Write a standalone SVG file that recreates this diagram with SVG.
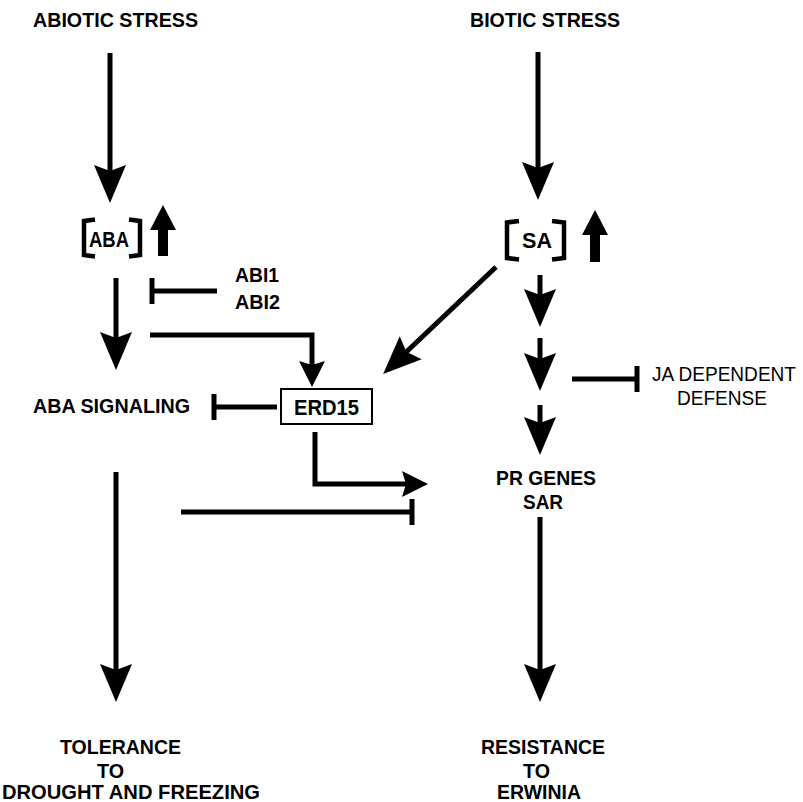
<svg xmlns="http://www.w3.org/2000/svg" width="803" height="802" viewBox="0 0 803 802">
<style>
.t{font-family:"Liberation Sans",Arial,sans-serif;font-weight:bold;font-size:21px;fill:#000}
.r{font-family:"Liberation Sans",Arial,sans-serif;font-size:20px;fill:#000}
.ln{fill:none;stroke:#000;stroke-width:5}
.br{fill:none;stroke:#000;stroke-width:4.5}
</style>
<defs>
<marker id="ah" markerUnits="userSpaceOnUse" viewBox="-20 -20 50 40" markerWidth="50" markerHeight="40" refX="0" refY="0" orient="auto" overflow="visible"><path d="M26,0 L-12,-16 L-6,0 L-12,16 Z" fill="#000"/></marker>
<marker id="ahs" markerUnits="userSpaceOnUse" viewBox="-20 -20 40 40" markerWidth="40" markerHeight="40" refX="0" refY="0" orient="auto" overflow="visible"><path d="M18,0 L-8,-13 L-4,0 L-8,13 Z" fill="#000"/></marker>
<marker id="tee" markerUnits="userSpaceOnUse" viewBox="-10 -20 20 40" markerWidth="20" markerHeight="40" refX="0" refY="0" orient="auto" overflow="visible"><path d="M0,-13 V13" stroke="#000" stroke-width="5"/></marker>
</defs>
<rect width="803" height="802" fill="#fff"/>

<g id="abiotic"><text class="t" x="33" y="27" textLength="165" lengthAdjust="spacingAndGlyphs">ABIOTIC STRESS</text></g>
<g id="biotic"><text class="t" x="470" y="27" textLength="150" lengthAdjust="spacingAndGlyphs">BIOTIC STRESS</text></g>

<g id="aba">
<path class="br" d="M95,219.5 L84,221 L84,255 L95,256.5"/>
<text class="t" x="89" y="247" style="font-size:22px" textLength="40" lengthAdjust="spacingAndGlyphs">ABA</text>
<path class="br" d="M129,219.5 L140,221 L140,255 L129,256.5"/>
<path d="M163,205 L176,230 L168,230 L168,256 L158,256 L158,230 L150,230 Z" fill="#000"/>
</g>

<g id="sa">
<path class="br" d="M519,221 L507,222.5 L507,258 L519,259.5"/>
<text class="t" x="522" y="248" style="font-size:22px" textLength="30" lengthAdjust="spacingAndGlyphs">SA</text>
<path class="br" d="M552,221 L564,222.5 L564,258 L552,259.5"/>
<path d="M595,210 L608,235 L600,235 L600,262 L590,262 L590,235 L582,235 Z" fill="#000"/>
</g>

<g id="abi"><text class="t" x="235" y="282" textLength="44" lengthAdjust="spacingAndGlyphs">ABI1</text><text class="t" x="235" y="309" textLength="45" lengthAdjust="spacingAndGlyphs">ABI2</text></g>

<g id="abasignaling"><text class="t" x="33" y="413" textLength="157" lengthAdjust="spacingAndGlyphs">ABA SIGNALING</text></g>

<g id="erd15">
<rect x="281" y="389" width="91" height="35" fill="#fff" stroke="#000" stroke-width="2"/>
<text class="t" x="294" y="415" style="font-size:22px" textLength="65" lengthAdjust="spacingAndGlyphs">ERD15</text>
</g>

<g id="ja"><text class="r" x="652" y="381" textLength="144" lengthAdjust="spacingAndGlyphs">JA DEPENDENT</text><text class="r" x="677" y="405" textLength="90" lengthAdjust="spacingAndGlyphs">DEFENSE</text></g>

<g id="prgenes"><text class="t" x="496" y="485" textLength="100" lengthAdjust="spacingAndGlyphs">PR GENES</text><text class="t" x="523" y="509" textLength="40" lengthAdjust="spacingAndGlyphs">SAR</text></g>

<g id="tolerance">
<text class="t" x="60" y="754" textLength="121" lengthAdjust="spacingAndGlyphs">TOLERANCE</text>
<text class="t" x="97" y="778" textLength="27" lengthAdjust="spacingAndGlyphs">TO</text>
<text class="t" x="2" y="799" textLength="258" lengthAdjust="spacingAndGlyphs">DROUGHT AND FREEZING</text>
</g>

<g id="resistance">
<text class="t" x="481" y="754" textLength="124" lengthAdjust="spacingAndGlyphs">RESISTANCE</text>
<text class="t" x="523" y="778" textLength="27" lengthAdjust="spacingAndGlyphs">TO</text>
<text class="t" x="497" y="799" textLength="84" lengthAdjust="spacingAndGlyphs">ERWINIA</text>
</g>

<g id="connectors">
<path class="ln" d="M110,53 V177" marker-end="url(#ah)"/>
<path class="ln" d="M538,52 V174" marker-end="url(#ah)"/>
<path class="ln" d="M116,278 V344" marker-end="url(#ah)"/>
<path class="ln" d="M116,472 V676" marker-end="url(#ah)"/>
<path class="ln" d="M540,275 V301" marker-end="url(#ah)"/>
<path class="ln" d="M540,338 V365" marker-end="url(#ah)"/>
<path class="ln" d="M540,405 V429" marker-end="url(#ah)"/>
<path class="ln" d="M540,517 V676" marker-end="url(#ah)"/>
<path class="ln" d="M496,267 L402,356" marker-end="url(#ah)"/>
<path class="ln" d="M150,335 H312 V369" marker-end="url(#ahs)"/>
<path class="ln" d="M315,432 V484 H410" marker-end="url(#ahs)"/>
<path class="ln" d="M217,291 H152" marker-end="url(#tee)"/>
<path class="ln" d="M277,407 H214" marker-end="url(#tee)"/>
<path class="ln" d="M181,512 H412" marker-end="url(#tee)"/>
<path class="ln" d="M572,379 H637" marker-end="url(#tee)"/>
</g>
</svg>
